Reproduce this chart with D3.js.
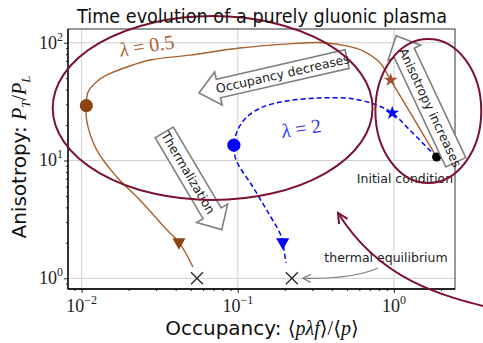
<!DOCTYPE html>
<html>
<head>
<meta charset="utf-8">
<script src="https://cdn.jsdelivr.net/npm/d3@7"></script>
<style>
  body { margin: 0; background: #fff; }
  svg { display: block; }
</style>
</head>
<body>
<script>
//trajectory data (occupancy, anisotropy)
var brownX = [1.876, 0.953, 0.813, 0.632, 0.522, 0.351, 0.216, 0.1033, 0.0494, 0.02735, 0.0195, 0.01452, 0.01248, 0.01099, 0.01072, 0.01076, 0.01248, 0.01675, 0.0236, 0.0352, 0.0420, 0.0516];
var brownY = [10.7, 48.2, 67.6, 85.1, 92.5, 100, 97.8, 90.1, 78.5, 71.3, 62.2, 53.2, 46.7, 38.1, 29.2, 22.0, 12.3, 7.28, 4.62, 2.57, 2.03, 1.25];
var blueX = [1.876, 1.74, 1.26, 0.975, 0.774, 0.544, 0.335, 0.206, 0.1445, 0.1143, 0.1, 0.0944, 0.0975, 0.125, 0.153, 0.186, 0.194, 0.203];
var blueY = [10.7, 11.8, 18.2, 25.3, 29.6, 33.4, 34.0, 32.0, 28.5, 23.4, 18.2, 13.5, 10.1, 5.96, 3.80, 2.42, 2.03, 1.35];

//markers: [x, y]
var brownCircle = [0.01072, 29.2], brownStar = [0.953, 48.2], brownTri = [0.042, 2.03];
var blueCircle = [0.0944, 13.5], blueStar = [0.975, 25.3], blueTri = [0.194, 2.03];
var initialPoint = [1.876, 10.7];
var equilibria = [[0.0548, 1], [0.222, 1]];

//axes
var xMajor = [0.01, 0.1, 1], xExp = ["\u22122", "\u22121", "0"];
var yMajor = [1, 10, 100], yExp = ["0", "1", "2"];

var width = 483, height = 343;
var plotL = 68, plotR = 455, plotT = 29, plotB = 289;

var svg = d3.select("body").append("svg")
    .attr("width", width)
    .attr("height", height);

var x = d3.scaleLog().domain([0.00818, 2.46]).range([plotL, plotR]);
var y = d3.scaleLog().domain([0.811, 130.7]).range([plotB, plotT]);

function minors(lo, hi){
    var out = [];
    for (var e = lo; e <= hi; e++)
        for (var m = 2; m <= 9; m++) out.push(m * Math.pow(10, e));
    return out;
}
var xMinor = minors(-3, 0).filter(function(v){ return v > 0.00818 && v < 2.46; });
var yMinor = minors(-1, 2).filter(function(v){ return v > 0.811 && v < 130.7; });

var serif = "'Liberation Serif', 'DejaVu Serif', serif";
var sans = "'DejaVu Sans', sans-serif";

//grid
svg.append("g").selectAll("line").data(xMajor).enter().append("line")
    .attr("x1", function(d){ return x(d); }).attr("x2", function(d){ return x(d); })
    .attr("y1", plotT).attr("y2", plotB)
    .attr("stroke", "#d0d0d0").attr("stroke-width", 1);
svg.append("g").selectAll("line").data(yMajor).enter().append("line")
    .attr("y1", function(d){ return y(d); }).attr("y2", function(d){ return y(d); })
    .attr("x1", plotL).attr("x2", plotR)
    .attr("stroke", "#d0d0d0").attr("stroke-width", 1);

//axes ticks
svg.append("g").attr("transform", "translate(0," + plotB + ")")
    .call(d3.axisBottom(x).tickValues(xMajor).tickSize(4).tickFormat(""));
svg.append("g").attr("transform", "translate(0," + plotB + ")")
    .call(d3.axisBottom(x).tickValues(xMinor).tickSize(2).tickFormat(""));
svg.append("g").attr("transform", "translate(" + plotL + ",0)")
    .call(d3.axisLeft(y).tickValues(yMajor).tickSize(4).tickFormat(""));
svg.append("g").attr("transform", "translate(" + plotL + ",0)")
    .call(d3.axisLeft(y).tickValues(yMinor).tickSize(2).tickFormat(""));
svg.selectAll(".domain").remove();
svg.selectAll(".tick line").attr("stroke", "#222");

//tick labels
xMajor.forEach(function(v, i){
    var t = svg.append("text").attr("x", x(v)).attr("y", 312)
        .attr("text-anchor", "middle").attr("font-family", serif).attr("font-size", 18).attr("fill", "#222");
    t.append("tspan").text("10");
    t.append("tspan").attr("dy", -8).attr("font-size", 12).text(xExp[i]);
});
yMajor.forEach(function(v, i){
    var t = svg.append("text").attr("x", 63).attr("y", y(v) + 6)
        .attr("text-anchor", "end").attr("font-family", serif).attr("font-size", 18).attr("fill", "#222");
    t.append("tspan").text("10");
    t.append("tspan").attr("dy", -8).attr("font-size", 12).text(yExp[i]);
});

//frame
svg.append("rect").attr("x", plotL).attr("y", plotT)
    .attr("width", plotR - plotL).attr("height", plotB - plotT)
    .attr("fill", "none").attr("stroke", "#333").attr("stroke-width", 1);
svg.append("line").attr("x1", plotL).attr("x2", plotL).attr("y1", plotT).attr("y2", plotB)
    .attr("stroke", "#000").attr("stroke-width", 1.3);
svg.append("line").attr("x1", plotL).attr("x2", plotR).attr("y1", plotB).attr("y2", plotB)
    .attr("stroke", "#000").attr("stroke-width", 1.3);

//curves
var line = d3.line()
    .x(function(d){ return x(d[0]); })
    .y(function(d){ return y(d[1]); })
    .curve(d3.curveCatmullRom.alpha(0.5));

svg.append("path").datum(d3.zip(brownX, brownY))
    .attr("d", line).attr("fill", "none")
    .attr("stroke", "#a9612d").attr("stroke-width", 1.4);
svg.append("path").datum(d3.zip(blueX, blueY))
    .attr("d", line).attr("fill", "none")
    .attr("stroke", "#0000ff").attr("stroke-width", 1.5)
    .attr("stroke-dasharray", "5,3");

//markers
function mark(p, type, size, color, rot){
    svg.append("path")
        .attr("d", d3.symbol(type).size(size)())
        .attr("transform", "translate(" + x(p[0]) + "," + y(p[1]) + ") rotate(" + (rot || 0) + ")")
        .attr("fill", color);
}
mark(brownCircle, d3.symbolCircle, 135, "#8b4513");
mark(brownStar, d3.symbolStar, 60, "#a0522d");
mark(brownTri, d3.symbolTriangle, 75, "#8b4513", 180);
mark(blueCircle, d3.symbolCircle, 135, "#0000ff");
mark(blueStar, d3.symbolStar, 60, "#0000ff");
mark(blueTri, d3.symbolTriangle, 75, "#0000ff", 180);
mark(initialPoint, d3.symbolCircle, 65, "#000");

svg.append("g").selectAll("path").data(equilibria).enter().append("path")
    .attr("d", "M-6,-6L6,6M-6,6L6,-6")
    .attr("transform", function(d){ return "translate(" + x(d[0]) + "," + y(d[1]) + ")"; })
    .attr("stroke", "#222").attr("stroke-width", 1.2).attr("fill", "none");

//lambda labels
function lam(px, py, txt, color){
    var t = svg.append("text").attr("transform", "translate(" + px + "," + py + ") rotate(-9)")
        .attr("font-family", serif).attr("font-size", 20).attr("fill", color);
    t.append("tspan").attr("font-style", "italic").text("\u03bb");
    t.append("tspan").text(" = " + txt);
}
lam(x(0.0178), y(76), "0.5", "#a9612d");
lam(x(0.194), y(15.5), "2", "#3333ff");

//block arrows: tip at local -L/2 (dir=-1) or +L/2 (dir=1)
function blockArrow(cx, cy, L, h, hl, hw, ang, dir, label, fs){
    var a = -L / 2, b = L / 2;
    var pts;
    if (dir < 0) {
        var xb = a + hl;
        pts = [[a, 0], [xb, -hw], [xb, -h], [b, -h], [b, h], [xb, h], [xb, hw]];
    } else {
        var xb2 = b - hl;
        pts = [[b, 0], [xb2, hw], [xb2, h], [a, h], [a, -h], [xb2, -h], [xb2, -hw]];
    }
    var g = svg.append("g").attr("transform", "translate(" + cx + "," + cy + ") rotate(" + ang + ")");
    g.append("path").attr("d", "M" + pts.join("L") + "Z")
        .attr("fill", "#fff").attr("stroke", "#808080").attr("stroke-width", 1.6)
        .attr("stroke-linejoin", "miter");
    var tx = dir < 0 ? (a + hl + b) / 2 : (a + b - hl) / 2;
    g.append("text").attr("x", tx).attr("y", 0).attr("dy", "0.35em")
        .attr("text-anchor", "middle").attr("font-family", sans).attr("font-size", fs)
        .attr("fill", "#222").text(label);
}
blockArrow(273, 76, 152, 9.5, 20, 17, -12.9, -1, "Occupancy decreases", 12.5);
blockArrow(193, 181, 113, 10.5, 19, 18, 59.4, 1, "Thermalization", 12.5);
blockArrow(426, 99, 140, 11, 19, 18, 64.8, -1, "Anisotropy increases", 12.5);

//texts
svg.append("text").attr("x", 405).attr("y", 183).attr("text-anchor", "middle")
    .attr("font-family", sans).attr("font-size", 12.5).attr("fill", "#222").text("Initial condition");
svg.append("text").attr("x", 386).attr("y", 262).attr("text-anchor", "middle")
    .attr("font-family", sans).attr("font-size", 12.5).attr("fill", "#222").text("thermal equilibrium");

//arrow heads
var defs = svg.append("defs");
defs.append("marker").attr("id", "grayhead").attr("markerUnits", "userSpaceOnUse")
    .attr("viewBox", "-10 -6 12 12").attr("refX", 0).attr("refY", 0)
    .attr("markerWidth", 12).attr("markerHeight", 12).attr("orient", "auto")
    .append("path").attr("d", "M-8,-4L0,0L-8,4").attr("fill", "none")
    .attr("stroke", "#808080").attr("stroke-width", 1.3);
defs.append("marker").attr("id", "redhead").attr("markerUnits", "userSpaceOnUse")
    .attr("viewBox", "-12 -8 14 16").attr("refX", 0).attr("refY", 0)
    .attr("markerWidth", 14).attr("markerHeight", 16).attr("orient", "auto")
    .append("path").attr("d", "M-10,-5L0,0L-10,5").attr("fill", "none")
    .attr("stroke", "#7b1230").attr("stroke-width", 2);

var eqX = x(equilibria[1][0]) + 11, eqY = y(1);
svg.append("path")
    .attr("d", "M378,268 Q" + (eqX + 50) + "," + (eqY + 1) + " " + eqX + "," + eqY)
    .attr("fill", "none").attr("stroke", "#808080").attr("stroke-width", 1.2)
    .attr("marker-end", "url(#grayhead)");

//red ellipses (in data space)
function ellipse(cxv, cyv, dx, dy){
    var cx = x(cxv), cy = y(cyv);
    svg.append("ellipse").attr("cx", cx).attr("cy", cy)
        .attr("rx", x(cxv * Math.pow(10, dx)) - cx)
        .attr("ry", cy - y(cyv * Math.pow(10, dy)))
        .attr("fill", "none").attr("stroke", "#7b1230").attr("stroke-width", 2);
}
ellipse(0.069, 27.9, 1.024, 0.781);
ellipse(1.66, 26.3, 0.339, 0.611);

svg.append("path")
    .attr("d", "M500,310 C440,296 380,280 338,213")
    .attr("fill", "none").attr("stroke", "#7b1230").attr("stroke-width", 2)
    .attr("marker-end", "url(#redhead)");

//title and axis labels
svg.append("text").attr("x", 262).attr("y", 23).attr("text-anchor", "middle")
    .attr("font-family", sans).attr("font-size", 20).attr("fill", "#111")
    .attr("textLength", 370).attr("lengthAdjust", "spacingAndGlyphs")
    .text("Time evolution of a purely gluonic plasma");

var xl = svg.append("text").attr("x", 262).attr("y", 335).attr("text-anchor", "middle")
    .attr("font-size", 20).attr("fill", "#111");
xl.append("tspan").attr("font-family", sans).text("Occupancy:  ");
xl.append("tspan").attr("font-family", serif).text("\u27e8");
xl.append("tspan").attr("font-family", serif).attr("font-style", "italic").text("p\u03bbf");
xl.append("tspan").attr("font-family", serif).text("\u27e9/\u27e8");
xl.append("tspan").attr("font-family", serif).attr("font-style", "italic").text("p");
xl.append("tspan").attr("font-family", serif).text("\u27e9");

var yl = svg.append("text").attr("transform", "translate(26,157) rotate(-90)")
    .attr("text-anchor", "middle").attr("font-size", 20).attr("fill", "#111");
yl.append("tspan").attr("font-family", sans).text("Anisotropy:  ");
yl.append("tspan").attr("font-family", serif).attr("font-style", "italic").text("P");
yl.append("tspan").attr("font-family", serif).attr("font-style", "italic").attr("font-size", 13).attr("dy", 4).text("T");
yl.append("tspan").attr("font-family", serif).attr("dy", -4).text("/");
yl.append("tspan").attr("font-family", serif).attr("font-style", "italic").text("P");
yl.append("tspan").attr("font-family", serif).attr("font-style", "italic").attr("font-size", 13).attr("dy", 4).text("L");
</script>
</body>
</html>
